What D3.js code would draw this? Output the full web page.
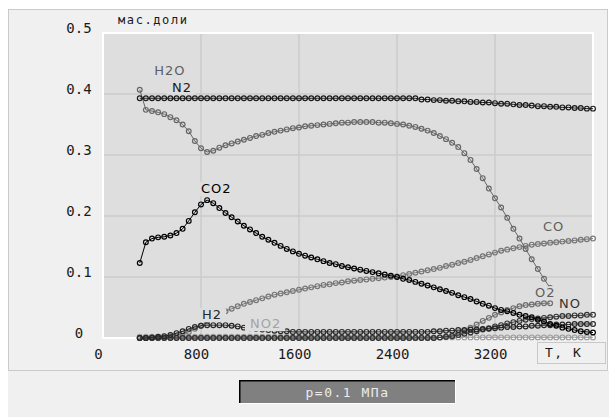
<!DOCTYPE html>
<html>
<head>
<meta charset="utf-8">
<script src="https://cdn.jsdelivr.net/npm/d3@7/dist/d3.min.js"></script>
<style>
  html, body { margin: 0; padding: 0; background: #ffffff; }
  svg { display: block; }
</style>
</head>
<body>
<svg id="chart" width="609" height="417"></svg>
<script>
// Equilibrium composition of combustion products, mass fractions vs temperature.
const temps = [300, 350, 400, 450, 500, 550, 600, 650, 700, 750,
  800, 850, 900, 950, 1000, 1050, 1100, 1150, 1200, 1250,
  1300, 1350, 1400, 1450, 1500, 1550, 1600, 1650, 1700, 1750,
  1800, 1850, 1900, 1950, 2000, 2050, 2100, 2150, 2200, 2250,
  2300, 2350, 2400, 2450, 2500, 2550, 2600, 2650, 2700, 2750,
  2800, 2850, 2900, 2950, 3000, 3050, 3100, 3150, 3200, 3250,
  3300, 3350, 3400, 3450, 3500, 3550, 3600, 3650, 3700, 3750,
  3800, 3850, 3900, 3950, 4000];

const n2 = [0.393, 0.393, 0.393, 0.393, 0.393, 0.393, 0.393, 0.393, 0.393, 0.393,
  0.393, 0.393, 0.393, 0.393, 0.393, 0.393, 0.393, 0.393, 0.393, 0.393,
  0.393, 0.393, 0.393, 0.393, 0.393, 0.393, 0.393, 0.393, 0.393, 0.393,
  0.393, 0.393, 0.393, 0.393, 0.393, 0.393, 0.393, 0.393, 0.393, 0.393,
  0.393, 0.393, 0.393, 0.393, 0.393, 0.393, 0.391, 0.391, 0.390, 0.390,
  0.389, 0.389, 0.388, 0.388, 0.387, 0.387, 0.386, 0.386, 0.385, 0.384,
  0.384, 0.383, 0.382, 0.382, 0.381, 0.380, 0.380, 0.379, 0.379, 0.378,
  0.378, 0.377, 0.377, 0.376, 0.376];

const h2o = [0.407, 0.374, 0.372, 0.370, 0.367, 0.362, 0.357, 0.350, 0.339, 0.323,
  0.311, 0.305, 0.307, 0.312, 0.316, 0.319, 0.322, 0.325, 0.328, 0.331,
  0.333, 0.336, 0.338, 0.340, 0.342, 0.344, 0.345, 0.347, 0.348, 0.349,
  0.350, 0.351, 0.352, 0.353, 0.353, 0.354, 0.354, 0.354, 0.354, 0.353,
  0.353, 0.352, 0.351, 0.350, 0.348, 0.346, 0.343, 0.340, 0.336, 0.331,
  0.326, 0.320, 0.313, 0.303, 0.292, 0.277, 0.262, 0.245, 0.229, 0.214,
  0.197, 0.179, 0.163, 0.146, 0.129, 0.113, 0.097, 0.082, null, null,
  null, null, null, null, null];

const co2 = [0.123, 0.157, 0.163, 0.165, 0.166, 0.168, 0.172, 0.179, 0.192, 0.206,
  0.219, 0.226, 0.221, 0.213, 0.205, 0.198, 0.191, 0.184, 0.178, 0.172,
  0.166, 0.161, 0.156, 0.151, 0.146, 0.142, 0.138, 0.135, 0.132, 0.129,
  0.126, 0.123, 0.121, 0.118, 0.116, 0.114, 0.112, 0.110, 0.108, 0.106,
  0.104, 0.102, 0.100, 0.097, 0.095, 0.092, 0.089, 0.086, 0.083, 0.080,
  0.077, 0.074, 0.070, 0.067, 0.064, 0.060, 0.056, 0.053, 0.049, 0.046,
  0.044, 0.041, 0.038, 0.036, 0.034, 0.030, 0.027, 0.023, 0.020, 0.017,
  0.015, 0.013, 0.011, 0.010, 0.009];

const co = [0.000, 0.000, 0.000, 0.001, 0.001, 0.002, 0.004, 0.007, 0.010, 0.015,
  0.020, 0.027, 0.033, 0.039, 0.044, 0.048, 0.052, 0.056, 0.059, 0.062,
  0.065, 0.068, 0.071, 0.073, 0.075, 0.077, 0.079, 0.081, 0.083, 0.085,
  0.087, 0.088, 0.090, 0.091, 0.093, 0.094, 0.095, 0.096, 0.097, 0.098,
  0.099, 0.100, 0.101, 0.103, 0.105, 0.107, 0.109, 0.111, 0.113, 0.115,
  0.118, 0.120, 0.123, 0.125, 0.128, 0.131, 0.134, 0.137, 0.140, 0.143,
  0.145, 0.147, 0.149, 0.151, 0.153, 0.154, 0.155, 0.156, 0.157, 0.158,
  0.159, 0.160, 0.161, 0.162, 0.163];

const h2 = [0.000, 0.000, 0.001, 0.002, 0.003, 0.005, 0.008, 0.011, 0.015, 0.018,
  0.020, 0.021, 0.021, 0.021, 0.021, 0.020, 0.019, 0.017, 0.016, 0.015,
  0.014, 0.013, 0.012, 0.011, 0.011, 0.010, 0.010, 0.010, 0.010, 0.010,
  0.010, 0.010, 0.010, 0.010, 0.010, 0.010, 0.010, 0.010, 0.010, 0.010,
  0.010, 0.010, 0.010, 0.010, 0.010, 0.010, 0.010, 0.010, 0.011, 0.011,
  0.012, 0.012, 0.013, 0.013, 0.014, 0.014, 0.015, 0.015, 0.016, 0.017,
  0.018, 0.018, 0.019, 0.019, 0.020, 0.020, 0.021, 0.021, 0.022, 0.022,
  0.022, 0.023, 0.023, 0.023, 0.023];

const no2 = [0.002, 0.002, 0.002, 0.002, 0.002, 0.002, 0.002, 0.002, 0.002, 0.002,
  0.002, 0.002, 0.002, 0.002, 0.002, 0.002, 0.002, 0.002, 0.002, 0.002,
  0.002, 0.002, 0.002, 0.002, 0.002, 0.002, 0.002, 0.002, 0.002, 0.002,
  0.002, 0.002, 0.002, 0.002, 0.002, 0.002, 0.002, 0.002, 0.002, 0.002,
  0.002, 0.002, 0.002, 0.002, 0.002, 0.001, 0.001, 0.001, 0.001, 0.001,
  0.001, 0.001, 0.001, 0.001, 0.001, 0.001, 0.001, 0.001, 0.001, 0.001,
  0.001, 0.001, 0.001, 0.001, 0.001, 0.001, 0.001, 0.001, 0.001, 0.001,
  0.001, 0.001, 0.001, 0.001, 0.001];

const o2 = [0.000, 0.000, 0.000, 0.000, 0.000, 0.000, 0.000, 0.000, 0.000, 0.000,
  0.000, 0.000, 0.000, 0.000, 0.000, 0.000, 0.000, 0.000, 0.000, 0.000,
  0.000, 0.000, 0.000, 0.000, 0.000, 0.000, 0.000, 0.000, 0.000, 0.000,
  0.000, 0.000, 0.000, 0.000, 0.000, 0.000, 0.000, 0.000, 0.000, 0.000,
  0.000, 0.000, 0.000, 0.000, 0.000, 0.000, 0.000, 0.000, 0.000, 0.001,
  0.002, 0.004, 0.008, 0.012, 0.017, 0.022, 0.028, 0.033, 0.038, 0.042,
  0.046, 0.049, 0.052, 0.054, 0.055, 0.056, 0.057, 0.057, null, null,
  null, null, null, null, null];

const no = [0.000, 0.000, 0.000, 0.000, 0.000, 0.000, 0.000, 0.000, 0.000, 0.000,
  0.000, 0.000, 0.000, 0.000, 0.000, 0.000, 0.000, 0.000, 0.000, 0.000,
  0.000, 0.000, 0.000, 0.000, 0.000, 0.000, 0.000, 0.000, 0.000, 0.000,
  0.000, 0.000, 0.000, 0.000, 0.000, 0.000, 0.000, 0.000, 0.000, 0.000,
  0.000, 0.000, 0.000, 0.000, 0.000, 0.000, 0.000, 0.000, 0.000, 0.001,
  0.002, 0.003, 0.005, 0.007, 0.009, 0.011, 0.014, 0.016, 0.019, 0.021,
  0.024, 0.026, 0.028, 0.030, 0.031, 0.032, 0.033, 0.034, 0.035, 0.036,
  0.036, 0.037, 0.037, 0.038, 0.038];

const xTickValues = [0, 800, 1600, 2400, 3200];
const xTickLabels = ["0", "800", "1600", "2400", "3200"];
const yTickValues = [0, 0.1, 0.2, 0.3, 0.4, 0.5];
const yTickLabels = ["0", "0.1", "0.2", "0.3", "0.4", "0.5"];
const yAxisTitle = "мас.доли";
const xAxisTitle = "T, K";
const pressureText = "p=0.1 МПа";

// Series in drawing order, with colours and label anchors in data units.
const series = [
  { name: "NO2", values: no2, color: "#9c9c9c", label: { t: 1200, v: 0.016 }, labelColor: "#a4a4a4" },
  { name: "CO",  values: co,  color: "#767676", label: { t: 3592, v: 0.175 }, labelColor: "#5e5e5e" },
  { name: "O2",  values: o2,  color: "#6e6e6e", label: { t: 3527, v: 0.067 }, labelColor: "#5e5e5e" },
  { name: "NO",  values: no,  color: "#333333", label: { t: 3722, v: 0.049 }, labelColor: "#333333" },
  { name: "H2",  values: h2,  color: "#262626", label: { t: 808,  v: 0.031 }, labelColor: "#262626" },
  { name: "H2O", values: h2o, color: "#666666", label: { t: 418,  v: 0.431 }, labelColor: "#5e5e5e" },
  { name: "CO2", values: co2, color: "#000000", label: { t: 800,  v: 0.238 }, labelColor: "#000000" },
  { name: "N2",  values: n2,  color: "#1a1a1a", label: { t: 563,  v: 0.404 }, labelColor: "#1a1a1a" }
];

const svg = d3.select("#chart");
const plotBg = "#dedede";
const panelBg = "#f0f0f0";

// Window panels
svg.append("rect").attr("x", 8).attr("y", 370).attr("width", 601).attr("height", 47)
  .attr("fill", panelBg);
svg.append("rect").attr("x", 8.5).attr("y", 9.5).attr("width", 599).attr("height", 361)
  .attr("fill", panelBg).attr("stroke", "#cacaca").attr("stroke-width", 1);

const x = d3.scaleLinear().domain([0, 4000]).range([103, 593]);
const y = d3.scaleLinear().domain([0, 0.5]).range([338, 33]);

// Plot area
svg.append("rect")
  .attr("x", x(0)).attr("y", y(0.5))
  .attr("width", x(4000) - x(0)).attr("height", y(0) - y(0.5))
  .attr("fill", plotBg).attr("stroke", "#ffffff").attr("stroke-width", 2);

// Grid
const grid = svg.append("g").attr("stroke", "#cbcbcb").attr("stroke-width", 1.5);
grid.selectAll("line.gx").data(xTickValues.filter(d => d > 0)).join("line")
  .attr("x1", d => x(d)).attr("x2", d => x(d))
  .attr("y1", y(0.5) + 1).attr("y2", y(0) - 1);
grid.selectAll("line.gy").data(yTickValues.filter(d => d > 0 && d < 0.5)).join("line")
  .attr("x1", x(0) + 1).attr("x2", x(4000) - 1)
  .attr("y1", d => y(d)).attr("y2", d => y(d));

// Axes (labels only)
const tickFont = "'DejaVu Sans Mono', monospace";
const xAxis = d3.axisBottom(x).tickValues(xTickValues).tickSize(0)
  .tickFormat((d, i) => xTickLabels[i]);
const gx = svg.append("g").attr("transform", `translate(-5, ${y(0) + 14})`).call(xAxis);
gx.select(".domain").remove();
gx.selectAll("text").attr("font-family", tickFont).attr("font-size", 14)
  .attr("fill", "#1a1a1a").attr("dy", "0.32em");

const yAxis = d3.axisLeft(y).tickValues(yTickValues).tickSize(0)
  .tickFormat((d, i) => yTickLabels[i]);
const gy = svg.append("g").attr("transform", "translate(0, -4.5)").call(yAxis);
gy.select(".domain").remove();
gy.selectAll("text").attr("font-family", tickFont).attr("font-size", 14)
  .attr("fill", "#1a1a1a").attr("x", 79).attr("text-anchor", "middle");

svg.append("text").attr("x", 118).attr("y", 24)
  .attr("font-family", tickFont).attr("font-size", 12).attr("letter-spacing", 1.6)
  .attr("fill", "#1a1a1a").text(yAxisTitle);

// Series
const line = d3.line()
  .defined(d => d.v !== null)
  .x(d => x(d.t)).y(d => y(d.v));

series.forEach(s => {
  const pts = temps.map((t, i) => ({ t, v: s.values[i] }));
  const g = svg.append("g");
  g.append("path").datum(pts).attr("d", line)
    .attr("fill", "none").attr("stroke", s.color).attr("stroke-width", 1);
  g.selectAll("circle").data(pts.filter(d => d.v !== null)).join("circle")
    .attr("cx", d => x(d.t)).attr("cy", d => y(d.v)).attr("r", 2.4)
    .attr("fill", "none").attr("stroke", s.color).attr("stroke-width", 1.15);
});

// Series labels with plot-coloured backing
const labelFont = "'DejaVu Sans', sans-serif";
series.forEach(s => {
  const g = svg.append("g");
  const t = g.append("text")
    .attr("x", x(s.label.t)).attr("y", y(s.label.v))
    .attr("font-family", labelFont).attr("font-size", 13).attr("letter-spacing", 1)
    .attr("fill", s.labelColor).text(s.name);
  const bb = t.node().getBBox();
  g.insert("rect", "text")
    .attr("x", bb.x - 5).attr("y", bb.y + 1)
    .attr("width", bb.width + 9).attr("height", bb.height - 1)
    .attr("fill", plotBg);
});

// Temperature axis title box
svg.append("rect").attr("x", 537.5).attr("y", 342.5).attr("width", 68).attr("height", 21)
  .attr("fill", panelBg).attr("stroke", "#c8c8c8");
svg.append("text").attr("x", 545).attr("y", 357)
  .attr("font-family", tickFont).attr("font-size", 13).attr("letter-spacing", 1.5)
  .attr("fill", "#1a1a1a").text(xAxisTitle);

// Pressure indicator
const bx = 239, by = 380, bw = 217, bh = 24;
svg.append("rect").attr("x", bx).attr("y", by).attr("width", bw).attr("height", bh)
  .attr("fill", "#808080");
svg.append("line").attr("x1", bx).attr("x2", bx + bw).attr("y1", by + 0.75).attr("y2", by + 0.75)
  .attr("stroke", "#000").attr("stroke-width", 1.5);
svg.append("line").attr("x1", bx + 0.75).attr("x2", bx + 0.75).attr("y1", by).attr("y2", by + bh)
  .attr("stroke", "#000").attr("stroke-width", 1.5);
svg.append("line").attr("x1", bx).attr("x2", bx + bw).attr("y1", by + bh - 0.5).attr("y2", by + bh - 0.5)
  .attr("stroke", "#ffffff").attr("stroke-width", 1);
svg.append("line").attr("x1", bx + bw - 0.5).attr("x2", bx + bw - 0.5).attr("y1", by).attr("y2", by + bh)
  .attr("stroke", "#ffffff").attr("stroke-width", 1);
svg.append("text").attr("x", bx + bw / 2).attr("y", by + 17)
  .attr("text-anchor", "middle")
  .attr("font-family", tickFont).attr("font-size", 13).attr("letter-spacing", 1.5)
  .attr("fill", "#ececec").text(pressureText);
</script>
</body>
</html>
